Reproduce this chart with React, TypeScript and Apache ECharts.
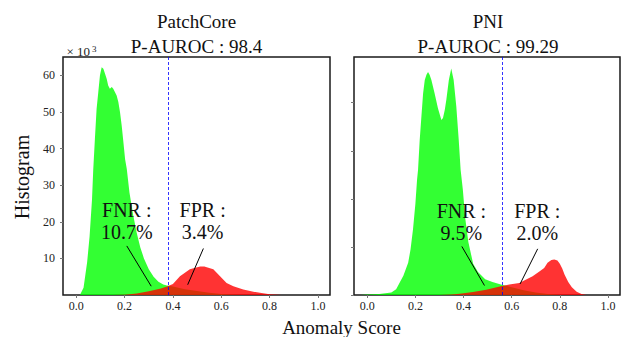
import React, { useEffect, useRef } from "react";
import * as echarts from "echarts";

// ---------- data ----------
const xTicks = [0.0, 0.2, 0.4, 0.6, 0.8, 1.0];
const leftYTicks = [0, 10, 20, 30, 40, 50, 60];
const rightYTicks = [0, 10, 20, 30, 40];

const panelTitles = ["PatchCore\nP-AUROC : 98.4", "PNI\nP-AUROC : 99.29"];
const thresholds = [0.375, 0.555];
const fnrTexts = ["FNR :\n10.7%", "FNR :\n9.5%"];
const fprTexts = ["FPR :\n3.4%", "FPR :\n2.0%"];

// PatchCore normal (green) histogram, x = score, y = count (x10^3)
const pcNormal: number[][] = [
  [0.0, 0], [0.015, 0], [0.03, 2], [0.045, 9], [0.055, 16], [0.065, 26], [0.07, 34],
  [0.077, 42.6], [0.084, 50.8], [0.091, 55.4], [0.098, 60], [0.105, 62.2], [0.112, 61.8],
  [0.119, 60.4], [0.126, 59], [0.132, 57.2], [0.139, 56.3], [0.147, 56.8], [0.153, 56.3],
  [0.167, 54.5], [0.174, 52.7], [0.181, 49.9], [0.188, 46.2], [0.195, 41.7], [0.202, 37.1],
  [0.209, 34.4], [0.22, 28], [0.235, 22], [0.25, 17], [0.265, 13], [0.28, 10], [0.3, 7],
  [0.32, 5], [0.34, 3.6], [0.36, 2.9], [0.375, 2.6], [0.4, 2.3], [0.45, 1.6], [0.5, 1.1],
  [0.55, 0.6], [0.6, 0.3], [0.65, 0.1], [0.7, 0],
];
// PatchCore anomaly (red)
const pcAnomaly: number[][] = [
  [0.15, 0], [0.2, 0.1], [0.25, 0.4], [0.3, 1], [0.35, 1.8], [0.375, 2.3], [0.4, 3],
  [0.429, 5.1], [0.47, 7], [0.5, 7.6], [0.513, 7.8], [0.53, 7.8], [0.54, 7.6], [0.567, 7],
  [0.581, 6.1], [0.595, 5.1], [0.622, 3.3], [0.65, 2.4], [0.691, 1.5], [0.733, 0.9],
  [0.76, 0.6], [0.8, 0.2], [0.85, 0],
];
// PNI normal (green)
const pniNormal: number[][] = [
  [-0.03, 0], [0.0, 0.1], [0.05, 0.2], [0.1, 0.5], [0.12, 1.2], [0.135, 2.6], [0.15, 4],
  [0.17, 6.7], [0.18, 9.5], [0.19, 13.6], [0.2, 19], [0.207, 24], [0.211, 26], [0.218, 32.3],
  [0.225, 37.1], [0.232, 41.9], [0.239, 44.7], [0.246, 45.8], [0.2525, 46.4], [0.259, 45.8],
  [0.2665, 44.7], [0.28, 41.9], [0.294, 38.8], [0.308, 36.4], [0.3146, 36.8], [0.322, 38.5],
  [0.3286, 40.6], [0.339, 44.7], [0.349, 47.1], [0.359, 44.7], [0.37, 39.2], [0.38, 32.3],
  [0.388, 26], [0.397, 22], [0.407, 16], [0.42, 11], [0.44, 6.5], [0.46, 4.8], [0.49, 3.3],
  [0.52, 2.7], [0.555, 2.2], [0.6, 1.6], [0.65, 1.0], [0.7, 0.5], [0.75, 0.2], [0.8, 0],
];
// PNI anomaly (red)
const pniAnomaly: number[][] = [
  [0.3, 0], [0.35, 0.1], [0.384, 0.25], [0.439, 0.6], [0.494, 1.1], [0.555, 1.8],
  [0.59, 2.2], [0.632, 2.5], [0.66, 3.2], [0.687, 3.9], [0.715, 4.9], [0.735, 5.6],
  [0.749, 6.7], [0.765, 7.3], [0.777, 7.4], [0.79, 7.2], [0.8, 6.5], [0.81, 5.5],
  [0.82, 4.2], [0.835, 2.7], [0.85, 1.6], [0.87, 0.7], [0.89, 0.2], [0.91, 0],
];

// annotation anchors in data coordinates
const fnrTextPos = [[0.209, 20.2], [0.391, 15.1]];
const fprTextPos = [[0.523, 20.2], [0.7065, 15.1]];
const fnrArrows = [[[0.209, 13.4], [0.31, 2.4]], [[0.393, 10.1], [0.487, 1.97]]];
const fprArrows = [[[0.526, 12.7], [0.461, 2.8]], [[0.708, 9.6], [0.635, 2.3]]];

const FONT = "Liberation Serif";

export default function App() {
  const ref = useRef<HTMLDivElement>(null);

  useEffect(() => {
    if (!ref.current) return;
    const chart = echarts.init(ref.current, undefined, { renderer: "svg" });

    const grids = [
      { left: 63, top: 57, width: 267, height: 238 },
      { left: 354, top: 57, width: 266, height: 238 },
    ];

    const tickStyle = { color: "#777", width: 1 };
    const labelText = { fontFamily: FONT, fontSize: 12, color: "#222" };

    const xAxes = [0, 1].map((i) => ({
      type: "value",
      gridIndex: i,
      min: -0.055,
      max: 1.05,
      splitLine: { show: false },
      axisLine: { show: false, onZero: false },
      axisTick: {
        show: true,
        length: 3,
        lineStyle: tickStyle,
        customValues: xTicks,
      },
      axisLabel: {
        show: true,
        customValues: xTicks,
        formatter: (v: number) => v.toFixed(1),
        ...labelText,
        margin: 5,
      },
    }));

    const yAxes = [
      {
        type: "value",
        gridIndex: 0,
        min: 0,
        max: 65,
        interval: 10,
        splitLine: { show: false },
        axisLine: { show: false, onZero: false },
        axisTick: {
          show: true,
          length: 3,
          lineStyle: tickStyle,
          customValues: leftYTicks,
        },
        axisLabel: {
          show: true,
          showMinLabel: false,
          showMaxLabel: false,
          formatter: (v: number) => (v > 0 && v <= 60 ? String(v) : ""),
          ...labelText,
          margin: 8,
        },
      },
      {
        type: "value",
        gridIndex: 1,
        min: 0,
        max: 49.5,
        splitLine: { show: false },
        axisLine: { show: false, onZero: false },
        axisTick: {
          show: true,
          length: 3,
          lineStyle: tickStyle,
          customValues: rightYTicks,
        },
        axisLabel: { show: false },
      },
    ];

    const normals = [pcNormal, pniNormal];
    const anomalies = [pcAnomaly, pniAnomaly];

    const series: any[] = [];
    [0, 1].forEach((i) => {
      series.push({
        type: "line",
        xAxisIndex: i,
        yAxisIndex: i,
        data: normals[i],
        showSymbol: false,
        symbol: "none",
        lineStyle: { width: 0, opacity: 0 },
        areaStyle: { color: "rgba(0,255,0,0.8)", opacity: 1 },
        z: 2,
        markLine: {
          silent: true,
          symbol: "none",
          label: { show: false },
          lineStyle: { color: "#0000ff", type: [3, 2], width: 0.8 },
          data: [{ xAxis: thresholds[i] }],
        },
      });
      series.push({
        type: "line",
        xAxisIndex: i,
        yAxisIndex: i,
        data: anomalies[i],
        showSymbol: false,
        symbol: "none",
        lineStyle: { width: 0, opacity: 0 },
        areaStyle: { color: "rgba(255,0,0,0.8)", opacity: 1 },
        z: 3,
        markLine: {
          silent: true,
          symbol: ["none", "arrow"],
          symbolSize: [0, 7],
          label: { show: false },
          lineStyle: { color: "#000", type: "solid", width: 1 },
          data: [
            [{ coord: fnrArrows[i][0] }, { coord: fnrArrows[i][1] }],
            [{ coord: fprArrows[i][0] }, { coord: fprArrows[i][1] }],
          ],
        },
        markPoint: {
          silent: true,
          symbol: "circle",
          symbolSize: 1,
          itemStyle: { color: "rgba(0,0,0,0)" },
          label: {
            show: true,
            position: "inside",
            fontFamily: FONT,
            fontSize: 20,
            lineHeight: 22,
            color: "#111",
            align: "center",
          },
          data: [
            { coord: fnrTextPos[i], label: { formatter: fnrTexts[i] } },
            { coord: fprTextPos[i], label: { formatter: fprTexts[i] } },
          ],
        },
      });
    });

    const graphic: any[] = [
      {
        type: "text",
        x: 196.5,
        y: 34,
        style: {
          text: panelTitles[0],
          fontFamily: FONT,
          fontSize: 19,
          fill: "#111",
          align: "center",
          verticalAlign: "middle",
          lineHeight: 25,
        },
      },
      {
        type: "text",
        x: 488,
        y: 34,
        style: {
          text: panelTitles[1],
          fontFamily: FONT,
          fontSize: 19,
          fill: "#111",
          align: "center",
          verticalAlign: "middle",
          lineHeight: 25,
        },
      },
      {
        type: "text",
        x: 66.5,
        y: 51,
        style: {
          text: "× 10",
          fontFamily: FONT,
          fontSize: 13,
          fill: "#222",
          verticalAlign: "middle",
        },
      },
      {
        type: "text",
        x: 92,
        y: 48.5,
        style: {
          text: "3",
          fontFamily: FONT,
          fontSize: 9,
          fill: "#222",
          verticalAlign: "middle",
        },
      },
      {
        type: "text",
        x: 22,
        y: 177,
        rotation: Math.PI / 2,
        style: {
          text: "Histogram",
          fontFamily: FONT,
          fontSize: 20,
          fill: "#111",
          align: "center",
          verticalAlign: "middle",
        },
      },
      {
        type: "text",
        x: 341.5,
        y: 327,
        style: {
          text: "Anomaly Score",
          fontFamily: FONT,
          fontSize: 19,
          fill: "#111",
          align: "center",
          verticalAlign: "middle",
        },
      },
    ];

    chart.setOption({
      animation: false,
      backgroundColor: "#fff",
      textStyle: { fontFamily: FONT },
      grid: grids.map((g) => ({
        ...g,
        show: true,
        borderColor: "#1a1a1a",
        borderWidth: 1.5,
        backgroundColor: "transparent",
        containLabel: false,
      })),
      xAxis: xAxes,
      yAxis: yAxes,
      series,
      graphic,
    });

    return () => chart.dispose();
  }, []);

  return (
    <div
      ref={ref}
      style={{ position: "absolute", left: 0, top: 0, width: 621, height: 337 }}
    />
  );
}
